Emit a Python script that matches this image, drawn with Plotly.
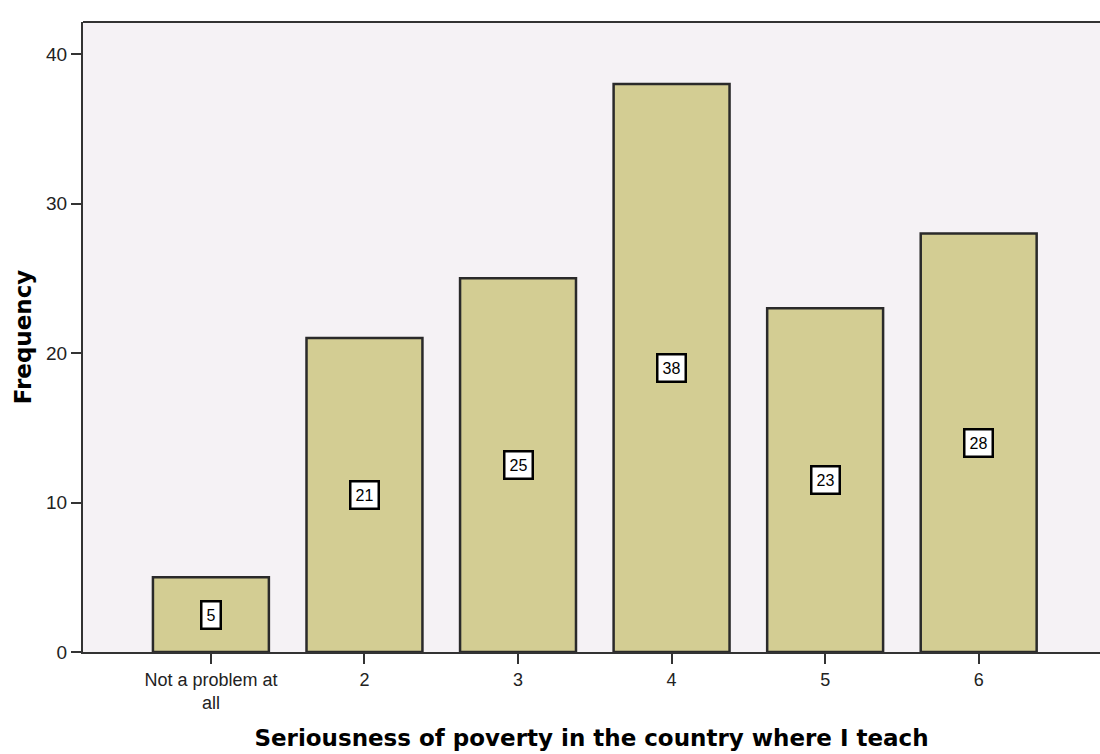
import plotly.graph_objects as go

categories = ["Not a problem at<br>all", "2", "3", "4", "5", "6"]
frequencies = [5, 21, 25, 38, 23, 28]
y_ticks = [0, 10, 20, 30, 40]

x_title = "Seriousness of poverty in the country where I teach"
y_title = "Frequency"

bar_color = "#d3cd93"
bg_color = "#f5f2f5"

fig = go.Figure()
fig.add_trace(go.Bar(
    x=list(range(len(categories))),
    y=frequencies,
    width=0.755,
    marker=dict(color=bar_color, line=dict(color="#2a2a2a", width=2.5)),
    hoverinfo="skip",
))

for i, v in enumerate(frequencies):
    fig.add_annotation(
        x=i, y=v / 2, text=str(v), showarrow=False,
        font=dict(family="Arial, Liberation Sans", size=16, color="black"),
        bgcolor="white", bordercolor="black", borderwidth=2.5, borderpad=4,
    )

fig.add_shape(type="line", xref="paper", yref="paper", x0=0, x1=1, y0=1, y1=1,
              line=dict(color="#333333", width=2))

fig.update_layout(
    width=1100, height=754,
    margin=dict(l=83, r=0, t=22, b=102),
    paper_bgcolor="white",
    plot_bgcolor=bg_color,
    showlegend=False,
    font=dict(family="Arial, Liberation Sans", color="black"),
    xaxis=dict(
        range=[-0.833, 5.79],
        tickmode="array",
        tickvals=list(range(len(categories))),
        ticktext=categories,
        tickfont=dict(size=18, color="#222222"),
        ticks="outside", ticklen=10, tickwidth=2, tickcolor="#333333",
        showline=True, linecolor="#333333", linewidth=2,
        showgrid=False, zeroline=False,
        title=dict(text="<b>" + x_title + "</b>",
                   font=dict(family="DejaVu Sans", size=23), standoff=18),
    ),
    yaxis=dict(
        range=[0, 42.14],
        tickmode="array",
        tickvals=y_ticks,
        tickfont=dict(size=19, color="#222222"),
        ticks="outside", ticklen=10, tickwidth=2, tickcolor="#333333",
        showline=True, linecolor="#333333", linewidth=2,
        showgrid=False, zeroline=False,
        title=dict(text="<b>" + y_title + "</b>",
                   font=dict(family="DejaVu Sans", size=23), standoff=8),
    ),
)

fig.write_html("out.html")
